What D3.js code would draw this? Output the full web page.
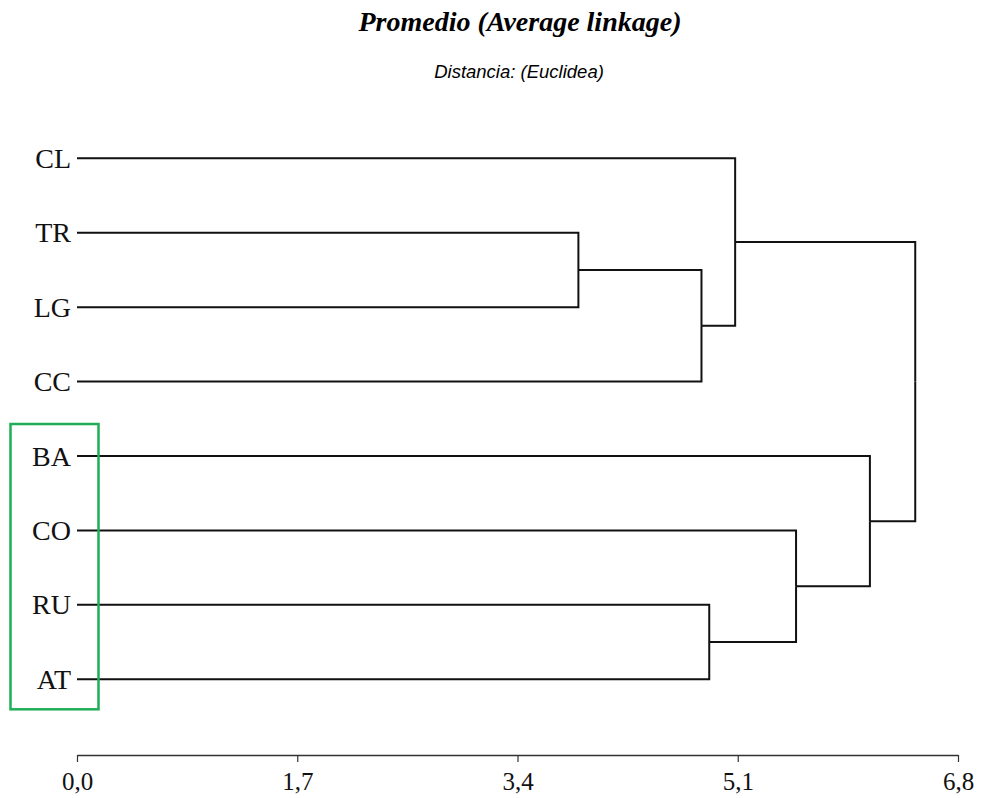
<html>
  <head>
    <meta charset="utf-8">
    <style>
      body { margin: 0; background: #fff; }
    </style>
  </head>
  <body>
    <script src="https://cdn.jsdelivr.net/npm/d3@7"></script>
    <script>
      // leaves, top to bottom
      var leaves = ["CL", "TR", "LG", "CC", "BA", "CO", "RU", "AT"];
      // merge steps (G1..G7 are the clusters made by each step)
      var mergeLeft   = ["TR", "G1", "CL", "RU", "CO", "BA", "G3"];
      var mergeRight  = ["LG", "CC", "G2", "AT", "G4", "G5", "G6"];
      var mergeHeight = [3.87, 4.82, 5.08, 4.88, 5.55, 6.12, 6.47];
      var tickValues  = [0, 1.7, 3.4, 5.1, 6.8];
      var highlighted = ["BA", "CO", "RU", "AT"];

      var width = 981, height = 798;

      // build the tree
      var nodes = {};
      leaves.forEach(function(l) { nodes[l] = {name: l, h: 0}; });
      var rootNode;
      for (var i = 0; i < mergeLeft.length; i++) {
        var n = {name: "G" + (i + 1), h: mergeHeight[i],
                 children: [nodes[mergeLeft[i]], nodes[mergeRight[i]]]};
        nodes[n.name] = n;
        rootNode = n;
      }
      var root = d3.hierarchy(rootNode);

      var x = d3.scaleLinear().domain([0, 6.8]).range([77, 958]);
      var y = d3.scalePoint().domain(leaves).range([158.3, 679.3]);

      root.eachAfter(function(d) {
        if (!d.children) d.yy = y(d.data.name);
        else d.yy = d3.mean(d.children, function(c) { return c.yy; });
      });

      var svg = d3.select("body").append("svg")
          .attr("width", width)
          .attr("height", height);

      svg.append("text")
          .attr("x", 520).attr("y", 31)
          .attr("text-anchor", "middle")
          .style("font-family", "'Liberation Serif', 'Times New Roman', serif")
          .style("font-weight", "bold")
          .style("font-style", "italic")
          .style("font-size", "28px")
          .text("Promedio (Average linkage)");

      svg.append("text")
          .attr("x", 519).attr("y", 78)
          .attr("text-anchor", "middle")
          .style("font-family", "'Liberation Sans', Arial, sans-serif")
          .style("font-style", "italic")
          .style("font-size", "18.5px")
          .text("Distancia: (Euclidea)");

      // links
      svg.append("g")
          .attr("fill", "none")
          .attr("stroke", "#111")
          .attr("stroke-width", 2)
        .selectAll("path")
        .data(root.links())
        .join("path")
          .attr("d", function(l) {
            return "M" + x(l.source.data.h) + "," + l.source.yy +
                   "V" + l.target.yy + "H" + x(l.target.data.h);
          });

      // leaf labels
      svg.append("g")
        .selectAll("text")
        .data(root.leaves())
        .join("text")
          .attr("x", 71)
          .attr("y", function(d) { return d.yy + 9.5; })
          .attr("text-anchor", "end")
          .style("font-family", "'Liberation Serif', 'Times New Roman', serif")
          .style("font-size", "28px")
          .attr("fill", "#111")
          .text(function(d) { return d.data.name; });

      // highlight box around a group of leaves
      var hTop = y(highlighted[0]) - 32, hBot = y(highlighted[highlighted.length - 1]) + 30;
      svg.append("rect")
          .attr("x", 10.5).attr("y", hTop)
          .attr("width", 88).attr("height", hBot - hTop)
          .attr("fill", "none")
          .attr("stroke", "#1fae55")
          .attr("stroke-width", 2.5);

      // axis
      var axis = d3.axisBottom(x)
          .tickValues(tickValues)
          .tickSize(7)
          .tickSizeOuter(0)
          .tickPadding(10)
          .tickFormat(function(d) { return d3.format(".1f")(d).replace(".", ","); });

      var gAxis = svg.append("g")
          .attr("transform", "translate(0,755)")
          .call(axis);
      gAxis.select(".domain").attr("stroke", "#333").attr("stroke-width", 1.5);
      gAxis.selectAll(".tick line").attr("stroke", "#333").attr("stroke-width", 1.2);
      gAxis.selectAll(".tick text")
          .attr("fill", "#111")
          .style("font-family", "'Liberation Serif', 'Times New Roman', serif")
          .style("font-size", "25px");
    </script>
  </body>
</html>
